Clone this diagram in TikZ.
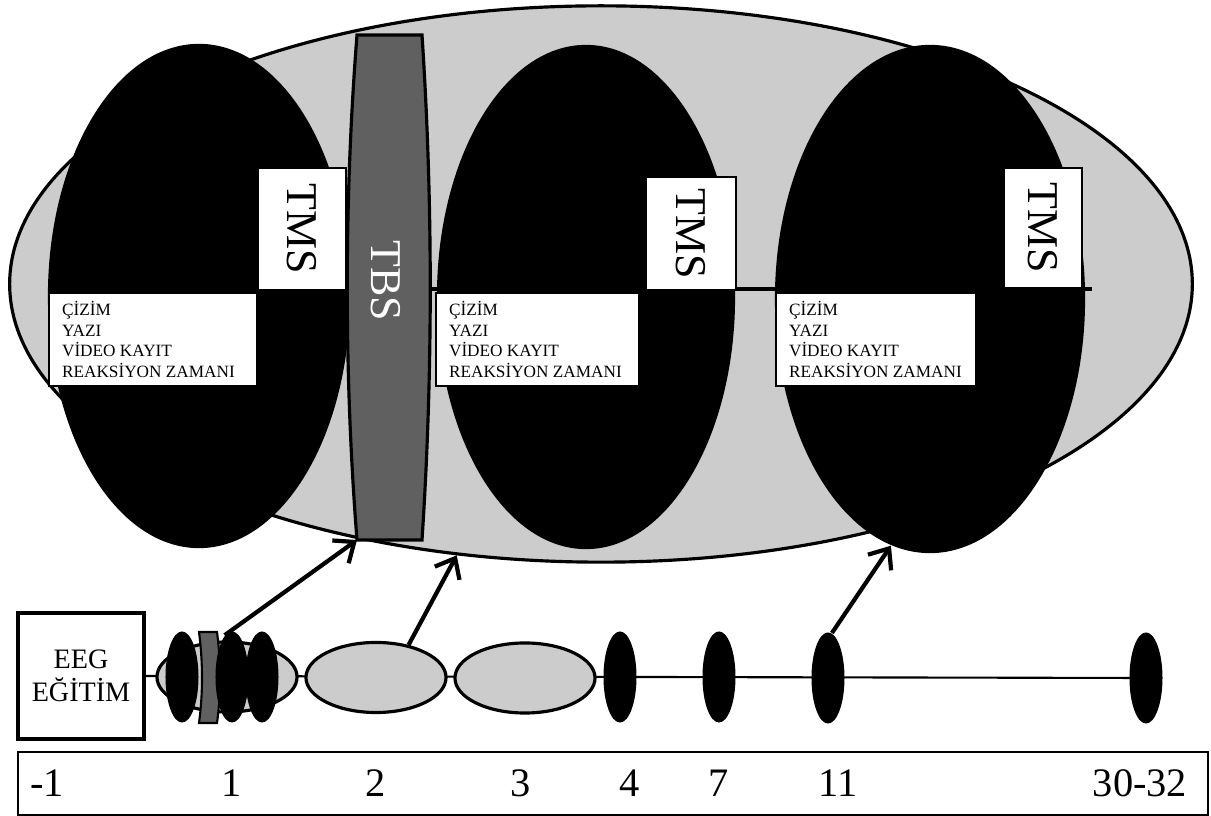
\documentclass[tikz,border=0pt]{standalone}
\usepackage{fontspec}
\setmainfont{Liberation Serif}
\usepackage{tikz}
\usetikzlibrary{arrows.meta,shapes.geometric,backgrounds}
\definecolor{Sgrey}{RGB}{204,204,204}
\definecolor{Sdark}{RGB}{96,96,96}
\tikzset{
  flow/.style={-{Straight Barb[length=1.7mm,width=2.8mm]}, line width=1.2pt},
  bigell/.style={ellipse, draw, line width=0.9pt, fill=Sgrey, inner sep=0pt},
  sessell/.style={ellipse, fill=black, inner sep=0pt},
  dayell/.style={ellipse, draw, line width=0.9pt, fill=Sgrey, inner sep=0pt, minimum width=1.4cm, minimum height=0.7cm},
  dotell/.style={ellipse, fill=black, inner sep=0pt, minimum width=0.33cm, minimum height=0.91cm},
  tmsbox/.style={draw, fill=white, line width=0.7pt, rotate=-90, inner sep=0pt, font=\fontsize{12.5}{15}\selectfont},
  taskbox/.style={draw, fill=white, line width=0.6pt, anchor=north west, align=flush left, inner xsep=0.13cm, inner ysep=0pt, minimum height=0.93cm, font=\fontsize{4.9}{5.9}\selectfont},
  tbsband/.style={draw, fill=Sdark, line width=0.9pt},
  eegbox/.style={draw, line width=0.9pt, align=center, inner sep=0pt, font=\fontsize{8}{9.4}\selectfont},
  timebox/.style={draw, line width=0.6pt, inner sep=0pt},
  daynum/.style={anchor=base, inner sep=0pt, font=\fontsize{11.5}{13}\selectfont}
}

\begin{document}
\begin{tikzpicture}[x=0.01cm, y=-0.01cm]
  \useasboundingbox (0,0) rectangle (1211,816);

  % sessions
  \node[bigell, minimum width=11.82cm, minimum height=5.56cm] (study) at (601,284) {};
  \coordinate (axl) at (60,289);
  \coordinate (axr) at (1092,289);
  \draw[line width=0.9pt] (axl) -- (axr);
  \node[sessell, minimum width=3.02cm, minimum height=5.04cm] (sess1) at (199,296) {};
  \node[sessell, minimum width=2.98cm, minimum height=5.04cm] (sess2) at (586,297) {};
  \node[sessell, minimum width=3.10cm, minimum height=5.08cm] (sess3) at (930,299) {};

  \draw[tbsband] (357,35) -- (422,35) .. controls (433,200) and (433,375) .. (422,540)
    -- (357,540) .. controls (344,375) and (344,200) .. (357,35) -- cycle;
  \coordinate (tbsfoot) at (357,540);
  \node[rotate=-90, text=white, font=\fontsize{12.5}{15}\selectfont] (tbs) at (386,281) {TBS};

  \node[tmsbox, minimum width=1.22cm, minimum height=0.88cm] (tms1) at (302,229) {TMS};
  \node[tmsbox, minimum width=1.13cm, minimum height=0.90cm] (tms2) at (691,233.5) {TMS};
  \node[tmsbox, minimum width=1.20cm, minimum height=0.78cm] (tms3) at (1043,228) {TMS};

  \node[taskbox, text width=1.82cm] (task1) at (48,292) {ÇİZİM\\YAZI\\VİDEO KAYIT\\REAKSİYON ZAMANI};
  \node[taskbox, text width=1.77cm] (task2) at (435,292) {ÇİZİM\\YAZI\\VİDEO KAYIT\\REAKSİYON ZAMANI};
  \node[taskbox, text width=1.74cm] (task3) at (775,292) {ÇİZİM\\YAZI\\VİDEO KAYIT\\REAKSİYON ZAMANI};

  % timeline
  \node[eegbox, minimum width=1.26cm, minimum height=1.26cm] (eeg) at (81,676) {EEG\\EĞİTİM};
  \node[dayell] (d1) at (227,677) {};
  \node[dotell] (d1a) at (182,677) {};
  \draw[tbsband, line width=0.6pt] (199,632) -- (217,632) .. controls (221,662) and (221,694) .. (217,723)
    -- (199,723) .. controls (203,694) and (203,662) .. (199,632) -- cycle;
  \node[dotell] (d1b) at (232,677) {};
  \node[dotell] (d1c) at (262,677) {};
  \node[dayell] (d2) at (376,677.5) {};
  \node[dayell] (d3) at (525,678) {};
  \node[dotell] (d4) at (620,677) {};
  \node[dotell] (d7) at (719,677) {};
  \node[dotell] (d11) at (828,678) {};
  \node[dotell] (d30) at (1146,678) {};
  \begin{scope}[on background layer]
    \draw[line width=0.6pt] (eeg.east) -- (d30.center);
  \end{scope}

  \node[timebox, minimum width=11.90cm, minimum height=0.63cm] (days) at (613,783.5) {};
  \foreach \x/\t/\n in {47/-1/m1, 232/1/1, 376/2/2, 521/3/3, 630/4/4, 719/7/7, 838/11/11, 1140/30-32/30}
    \node[daynum] (lab\n) at (\x,797) {\t};

  \draw[flow] (d1b.100) -- (tbsfoot);
  \draw[flow] (d2.45) -- (study.242);
  \draw[flow] (d11.85) -- (sess3.261);
\end{tikzpicture}
\end{document}
